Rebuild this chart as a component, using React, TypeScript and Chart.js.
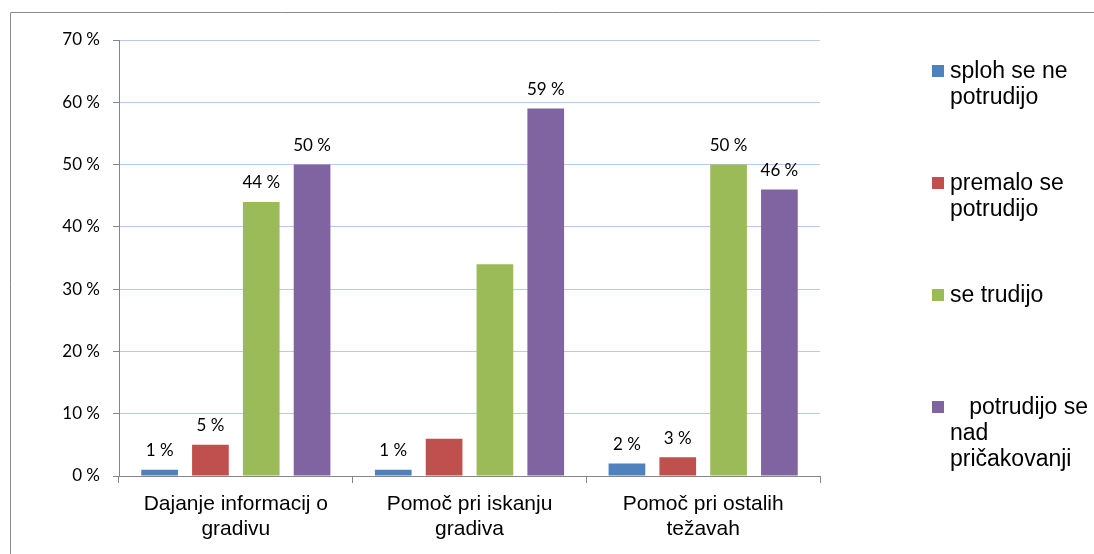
import React, { useEffect, useRef } from "react";
import { Chart, registerables } from "chart.js";

Chart.register(...registerables);

const categories: string[][] = [
  ["Dajanje informacij o", "gradivu"],
  ["Pomoč pri iskanju", "gradiva"],
  ["Pomoč pri ostalih", "težavah"],
];
const seriesNames = [
  "sploh se ne potrudijo",
  "premalo se potrudijo",
  "se trudijo",
  "   potrudijo se nad pričakovanji",
];
const seriesColors = ["#4F81BD", "#C0504D", "#9BBB59", "#8064A2"];
const splohSeNe = [1, 1, 2];
const premalo = [5, 6, 3];
const seTrudijo = [44, 34, 50];
const nadPricakovanji = [50, 59, 46];
const showLabels = [
  [true, true, true],
  [true, false, true],
  [true, false, true],
  [true, true, true],
];
const yTicks = [0, 10, 20, 30, 40, 50, 60, 70];

const seriesValues = [splohSeNe, premalo, seTrudijo, nadPricakovanji];

const borderPlugin = {
  id: "outerBorder",
  beforeDraw(chart: any) {
    const ctx = chart.ctx;
    ctx.save();
    ctx.fillStyle = "#ffffff";
    ctx.fillRect(0, 0, chart.width, chart.height);
    ctx.strokeStyle = "#8a8a8a";
    ctx.lineWidth = 1;
    ctx.beginPath();
    ctx.moveTo(10.5, chart.height + 10);
    ctx.lineTo(10.5, 12.5);
    ctx.lineTo(chart.width + 10, 12.5);
    ctx.stroke();
    ctx.restore();
  },
};

const valueLabelPlugin = {
  id: "valueLabels",
  afterDatasetsDraw(chart: any) {
    const ctx = chart.ctx;
    ctx.save();
    ctx.font = "17px Lato";
    ctx.fillStyle = "#000000";
    ctx.textAlign = "center";
    ctx.textBaseline = "alphabetic";
    chart.data.datasets.forEach((ds: any, di: number) => {
      const meta = chart.getDatasetMeta(di);
      meta.data.forEach((el: any, i: number) => {
        if (!showLabels[di][i]) return;
        ctx.fillText(`${ds.data[i]} %`, el.x, el.y - 13.5);
      });
    });
    ctx.restore();
  },
};

function wrapText(ctx: CanvasRenderingContext2D, text: string, maxWidth: number): string[] {
  const m = text.match(/^\s*/);
  const lead = m ? m[0] : "";
  const words = text.trim().split(/\s+/);
  const lines: string[] = [];
  let cur = lead + words[0];
  for (let i = 1; i < words.length; i++) {
    const test = cur + " " + words[i];
    if (ctx.measureText(test).width > maxWidth) {
      lines.push(cur);
      cur = words[i];
    } else {
      cur = test;
    }
  }
  lines.push(cur);
  return lines;
}

const legendPlugin = {
  id: "sideLegend",
  afterDraw(chart: any) {
    const ctx = chart.ctx;
    ctx.save();
    ctx.font = "23px 'Liberation Sans', Arial, sans-serif";
    ctx.textAlign = "left";
    ctx.textBaseline = "alphabetic";
    const markerX = 932;
    const textX = 950;
    const firstBaseline = 78;
    const step = 112;
    const lineH = 26;
    chart.data.datasets.forEach((ds: any, di: number) => {
      const base = firstBaseline + di * step;
      ctx.fillStyle = ds.backgroundColor;
      ctx.fillRect(markerX, base - 13, 12, 12);
      ctx.fillStyle = "#000000";
      const lines = wrapText(ctx, ds.label, 144);
      lines.forEach((ln, li) => {
        ctx.fillText(ln, textX, base + li * lineH);
      });
    });
    ctx.restore();
  },
};

export default function App() {
  const ref = useRef<HTMLCanvasElement>(null);
  useEffect(() => {
    if (!ref.current) return;
    const chart = new Chart(ref.current, {
      type: "bar",
      data: {
        labels: categories as any,
        datasets: seriesNames.map((name, i) => ({
          label: name,
          data: seriesValues[i],
          backgroundColor: seriesColors[i],
          borderWidth: 0,
          categoryPercentage: 0.87,
          barPercentage: 0.722,
        })),
      },
      options: {
        animation: false,
        responsive: false,
        devicePixelRatio: 1,
        layout: { padding: { left: 0, top: 40, right: 274, bottom: 0 } },
        plugins: {
          legend: { display: false },
          tooltip: { enabled: false },
        },
        scales: {
          x: {
            offset: true,
            grid: {
              offset: true,
              drawOnChartArea: false,
              drawTicks: true,
              tickLength: 7,
              tickColor: "#868686",
            },
            border: { color: "#868686", width: 1 },
            ticks: {
              color: "#000000",
              padding: 9,
              maxRotation: 0,
              autoSkip: false,
              font: { family: "'Liberation Sans', Arial, sans-serif", size: 21, lineHeight: 1.19 },
            },
            afterFit(scale: any) {
              scale.height = 78;
            },
          },
          y: {
            min: 0,
            max: 70,
            afterBuildTicks(scale: any) {
              scale.ticks = yTicks.map((v) => ({ value: v }));
            },
            grid: {
              color: "#b4cbed",
              tickLength: 6,
              tickColor: "#868686",
            },
            border: { color: "#868686", width: 1 },
            ticks: {
              color: "#000000",
              padding: 13,
              font: { family: "Lato", size: 17 },
              callback: (v: any) => `${v} %`,
            },
            afterFit(scale: any) {
              scale.width = 119;
            },
          },
        },
      },
      plugins: [borderPlugin, valueLabelPlugin, legendPlugin],
    });
    return () => chart.destroy();
  }, []);
  return (
    <div style={{ position: "absolute", left: 0, top: 0, width: 1094, height: 554 }}>
      <canvas ref={ref} width={1094} height={554} style={{ display: "block" }} />
    </div>
  );
}
